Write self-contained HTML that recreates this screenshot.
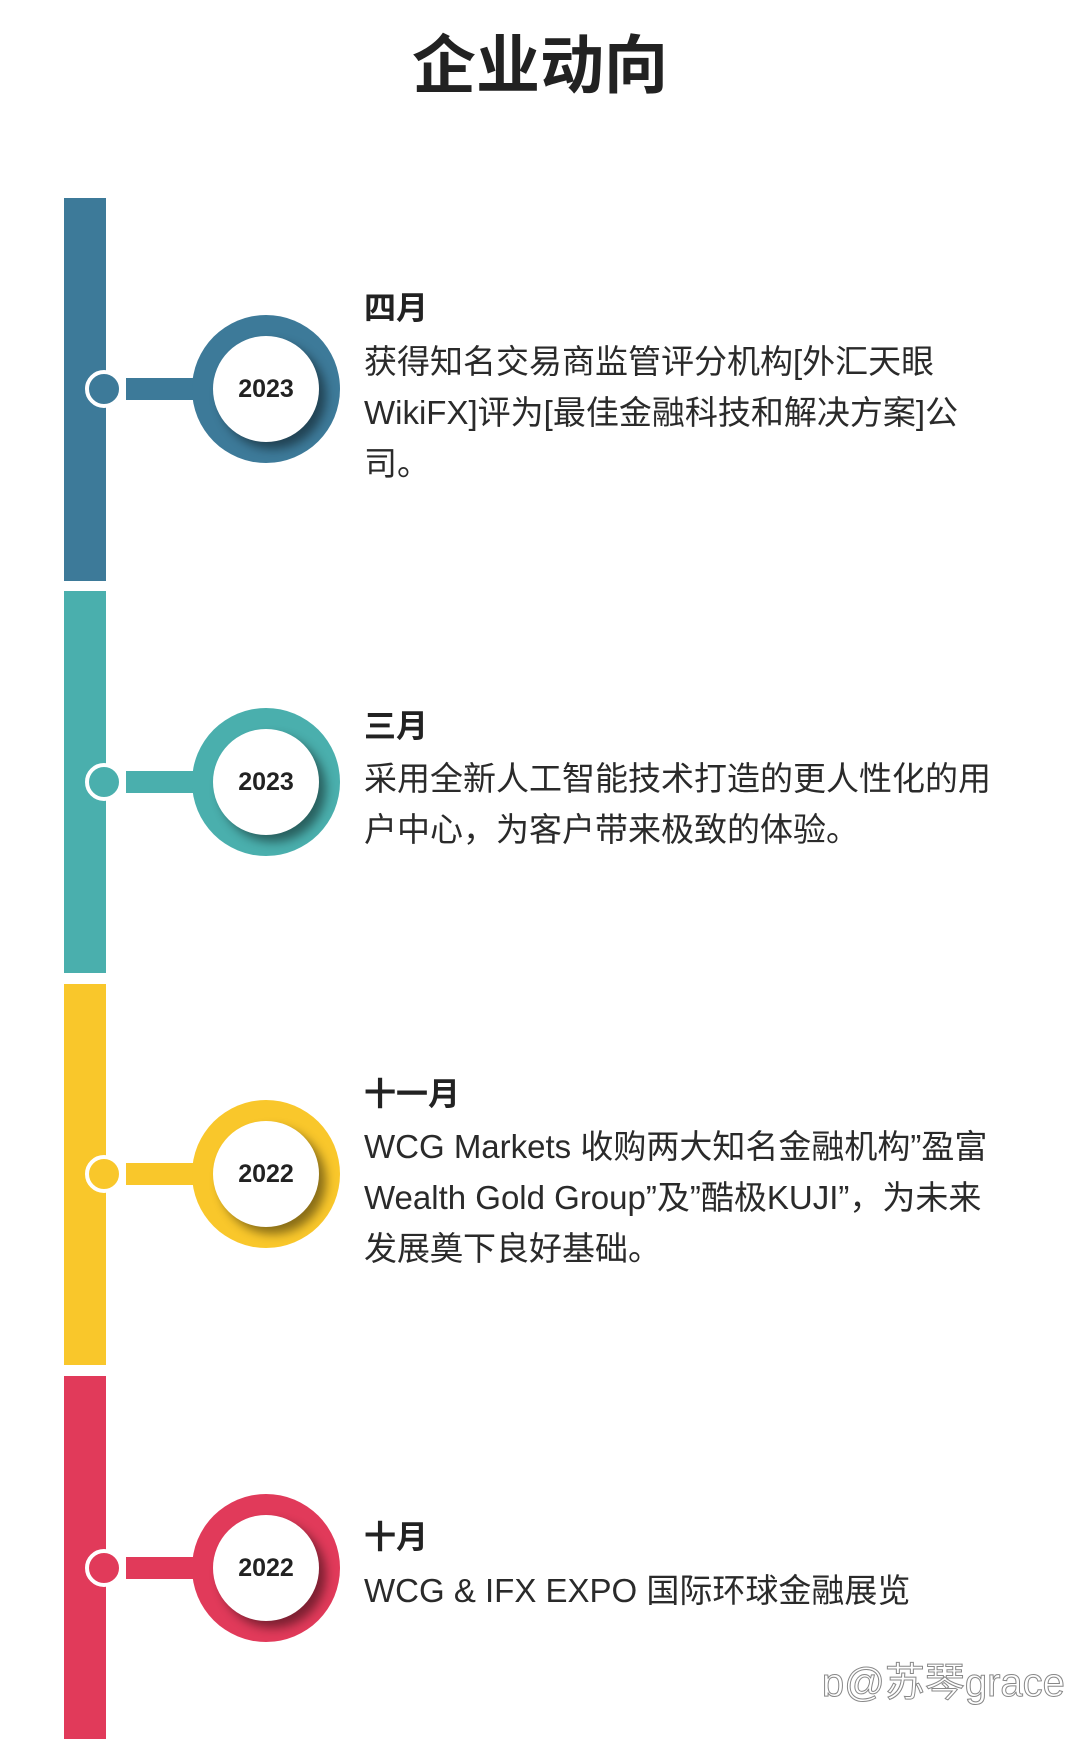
<!DOCTYPE html>
<html><head><meta charset="utf-8"><style>
body{margin:0;width:1080px;height:1739px;background:#fff;position:relative;overflow:hidden;font-family:"Liberation Sans","Noto Sans CJK SC",sans-serif;color:#2a2a2a}
.a{position:absolute}
.bar{position:absolute;left:64px;width:42px}
.dot{position:absolute;left:85px;width:38px;height:38px;border-radius:50%;border:4px solid #fff;box-sizing:border-box}
.con{position:absolute;left:126px;width:70px;height:22px}
.big{position:absolute;left:192px;width:148px;height:148px;border-radius:50%}
.in{position:absolute;left:21px;top:21px;width:106px;height:106px;border-radius:50%;background:#fff;box-shadow:7px 7px 10px rgba(0,0,0,.45);text-align:center;line-height:106px;font-weight:bold;font-size:25px;color:#222}
.t{position:absolute;left:364px;font-size:33px;line-height:51px;white-space:nowrap}
.m{position:absolute;left:364px;font-size:32px;font-weight:bold;line-height:50px;color:#222}
</style></head><body>
<div class="a" style="left:0;width:1080px;top:26px;text-align:center;font-size:64px;font-weight:bold;line-height:80px;color:#222">企业动向</div>

<div class="bar" style="top:198px;height:383px;background:#3d7a99"></div>
<div class="bar" style="top:591px;height:382px;background:#4aafad"></div>
<div class="bar" style="top:984px;height:381px;background:#f9c72b"></div>
<div class="bar" style="top:1376px;height:363px;background:#e13a5a"></div>

<div class="dot" style="top:370px;background:#3d7a99"></div>
<div class="con" style="top:378px;background:#3d7a99"></div>
<div class="big" style="top:315px;background:#3d7a99"><div class="in">2023</div></div>

<div class="dot" style="top:763px;background:#4aafad"></div>
<div class="con" style="top:771px;background:#4aafad"></div>
<div class="big" style="top:708px;background:#4aafad"><div class="in">2023</div></div>

<div class="dot" style="top:1155px;background:#f9c72b"></div>
<div class="con" style="top:1163px;background:#f9c72b"></div>
<div class="big" style="top:1100px;background:#f9c72b"><div class="in">2022</div></div>

<div class="dot" style="top:1549px;background:#e13a5a"></div>
<div class="con" style="top:1557px;background:#e13a5a"></div>
<div class="big" style="top:1494px;background:#e13a5a"><div class="in">2022</div></div>

<div class="m" style="top:283px">四月</div>
<div class="t" style="top:336px">获得知名交易商监管评分机构[外汇天眼<br>WikiFX]评为[最佳金融科技和解决方案]公<br>司。</div>

<div class="m" style="top:701px">三月</div>
<div class="t" style="top:753px">采用全新人工智能技术打造的更人性化的用<br>户中心，为客户带来极致的体验。</div>

<div class="m" style="top:1069px">十一月</div>
<div class="t" style="top:1121px">WCG Markets 收购两大知名金融机构”盈富<br>Wealth Gold Group”及”酷极KUJI”，为未来<br>发展奠下良好基础。</div>

<div class="m" style="top:1512px">十月</div>
<div class="t" style="top:1565px">WCG &amp; IFX EXPO 国际环球金融展览</div>

<div class="a" style="left:822px;top:1658px;font-size:40px;line-height:50px;color:#fff;-webkit-text-stroke:1px #888;white-space:nowrap">ɒ@苏琴grace</div>
</body></html>
